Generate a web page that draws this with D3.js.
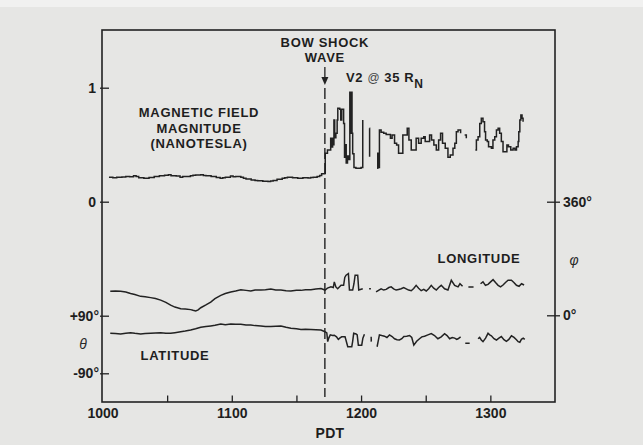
<!DOCTYPE html>
<html>
<head>
<meta charset="utf-8">
<script src="https://cdn.jsdelivr.net/npm/d3@7"></script>
<style>
  html, body { margin: 0; padding: 0; background: #e6e6e4; }
  svg { display: block; }
  text { font-family: "Liberation Sans", Arial, Helvetica, sans-serif; fill: #1e1e1e; }
</style>
</head>
<body>
<svg id="chart" width="643" height="445"></svg>
<script>
// ---------------- DATA ----------------
const xTickLabels = [1000, 1100, 1200, 1300];
const xMinorTicks = [1050, 1100, 1150, 1200, 1250, 1300];
const fieldTicks = [0, 1];
const latTicks = [90, -90];
const lonTicks = [0, 360];
const shockTime = 1172;

// Magnetic field magnitude (nanotesla); null = data gap
const fieldTime = [1005,1008,1011,1015,1018,1021,1024,1026,1028,1032,1036,1040,1044,1048,1051,1053,1057,1060,1062,1064,1068,1070,1072,1076,1078,1080,1084,1088,1091,1093,1095,1099,1101,1103,1107,1109,1111,1115,1118,1120,1124,1128,1130,1132,1135,1139,1141,1143,1147,1151,1155,1159,1161,1163,1166,1168,1169.5,
  1172,1172.3,1174,1175.5,1176.5,1177.2,1178,1178.6,1179,1179.6,1180.5,1181.5,1182,1183.5,1184.3,1185,1186,1186.5,1187.2,1187.8,1188.5,1189.5,1190.5,1191.3,1191.8,1192.3,1193,1193.5,1194.5,1196,1198,1200,1201.3,
  1203,
  1206.5,1206.6,
  1209,
  1212.4,1212.9,1213.3,1214.2,1215.5,1217.5,1219.4,1221,1222.7,1224,1225.9,1227.5,1229,1231,1232.3,1234,1235.7,1237,1238.8,1240.5,1242.6,1244.5,1246.5,1248.5,1249.6,1251,1253,1254.5,1256.3,1258.2,1260,1261.5,1263,1265.1,1267.2,1269,1271.1,1272.5,1273.7,1275,1277,
  1278.5,
  1280.1,1281.4,
  1285,
  1288.4,1289.2,1290.5,1291.8,1293,1294.3,1295.5,1296.3,1297.6,1298.6,1300.8,1302,1303.4,1304.7,1306,1307.2,1308.5,1309.8,1311.6,1312.8,1314,1315.8,1317.6,1319,1320.2,1321.5,1322,1322.8,1323.6,1324.5,1325.3];
const fieldValue = [.214,.21,.214,.216,.222,.218,.228,.22,.21,.206,.212,.22,.228,.232,.236,.228,.225,.214,.22,.222,.228,.232,.235,.237,.23,.228,.22,.212,.205,.21,.215,.225,.218,.22,.214,.205,.2,.19,.186,.184,.18,.178,.182,.185,.196,.205,.21,.214,.21,.205,.21,.208,.212,.215,.22,.23,.245,
  .25,.424,.454,.454,.556,.48,.556,.5,.717,.56,.6,.717,.82,.81,.717,.81,.81,.687,.39,.5,.34,.40,.37,.96,.6,.96,.60,.42,.30,.293,.293,.30,.717,
  null,
  .644,.395,
  null,
  .293,.425,.3,.63,.61,.60,.59,.59,.556,.585,.512,.497,.424,.424,.585,.585,.644,.541,.454,.454,.556,.512,.556,.57,.527,.527,.585,.541,.497,.454,.541,.60,.512,.468,.389,.41,.468,.512,.614,.629,.60,
  null,
  .585,.556,
  null,
  .454,.541,.57,.687,.731,.702,.614,.541,.527,.483,.468,.541,.57,.629,.644,.60,.527,.439,.439,.497,.483,.454,.468,.454,.483,.527,.614,.717,.76,.731,.702];

// Longitude (degrees, right axis)
const lonTime = [1006,1010,1014,1018,1021.7,1025,1029.5,1033,1037.2,1041,1045,1049,1052.7,1056,1060.5,1064,1068.2,1070,1072.1,1074,1076,1080,1083.7,1087,1091.5,1095,1099.2,1103,1107,1111,1114.7,1118,1122.5,1126,1130.2,1134,1138,1142,1145.7,1150,1153.5,1157,1161.2,1165,1169,1172.1,1174,1176.7,1178.5,1179.3,1180.5,1181.9,1184.5,1186.5,1187.4,1188.4,1190.2,1191,1193.5,1194.5,1195.4,1197.4,1198.2,1201.3,
  1203,
  1206.2,1207.6,
  1209.5,
  1211.6,1213.5,1215.5,1217.5,1219.4,1221.5,1223.3,1225.2,1227.1,1229,1231,1233,1234.9,1236.8,1238.8,1240.7,1242.6,1244.5,1246.5,1248.5,1250.4,1252.3,1254.3,1256.2,1258.2,1260,1262,1264.6,1267.2,1269.8,1272.4,1275,1276.5,
  1278.5,
  1280.6,1283,
  1287,
  1290.5,1292.4,1294.3,1296.2,1298.2,1300.2,1302.1,1304,1306,1307.9,1309.8,1311.7,1313.7,1316.3,1318.2,1320.2,1322.2,1324.1,1326.1];
const lonValue = [76,77,76,74,69,66,60,59,56,53,48,41,32,26,21,20,18,16,14,17,24,33,42,53,63,69,74,77,81,79,77,80,80,81,83,80,80,78,77,79,79,81,81,83,85,80,86,90,88,106,90,84,95,95,120,127,132,80,80,100,127,127,80,84,
  null,
  84,84,
  null,
  74,79,84,80,82,88,90,84,80,82,84,88,84,80,78,85,95,86,78,82,77,84,95,86,80,88,95,84,80,111,95,90,100,92,
  null,
  90,90,
  null,
  100,106,95,98,106,113,104,95,90,96,104,111,111,104,95,92,100,96];

// Latitude (degrees, lower left axis)
const latTime = [1006,1010,1014,1018,1021.7,1025,1029.5,1033,1037.2,1041,1045,1049,1052.7,1056,1060.5,1064,1068.2,1072,1076,1080,1083.7,1087,1091.5,1095,1099.2,1103,1107,1111,1114.7,1118,1122.5,1126,1130.2,1134,1138,1142,1145.7,1150,1153.5,1157,1161.2,1165,1169,1172.1,1173.5,1174.2,1175,1176.2,1178,1179.3,1181,1182.4,1183.5,1185,1187.6,1188.3,1189.7,1192.8,1193.5,1194.3,1196.1,1197,1197.9,1200.5,1201.4,1202.6,
  1204.5,
  1207.8,1207.9,
  1210,
  1212.4,1213.2,1214.2,1216,1218.1,1220,1222,1224,1225.9,1227.8,1229.7,1231.5,1233.1,1235.3,1237.5,1239.2,1240.8,1243,1245.2,1247,1249.1,1251.7,1254.3,1256.8,1259.4,1262,1264.6,1266.5,1268.5,1270.5,1272.4,1274,1275,1277,
  1278.7,
  1280.6,1284,
  1287.5,
  1290.5,1291.7,1293,1294.3,1296.3,1298.2,1299.5,1300.8,1302.8,1304.7,1306.6,1308.5,1310.5,1312.4,1314.3,1316.3,1318.3,1320.2,1321.5,1322.8,1324,1325.4,1326.6];
const latValue = [35,34,33,35,37,35,33,34,35,36,37,35,35,37,40,42,45,49,54,56,58,60,64,62,64,63,63,61,61,59,58,56,56,57,58,54,51,49,47,48,47,46,45,40,36,9,20,30,28,29,24,16,20,24,24,14,-7,-7,10,35,33,30,-2,-2,20,32,
  null,
  24,9,
  null,
  -7,10,30,28,26,22,30,25,18,15,14,18,25,26,28,22,-2,10,18,24,26,30,34,28,18,24,34,28,18,22,20,16,18,24,
  null,
  4,4,
  null,
  18,22,14,9,20,35,30,27,18,14,20,25,15,10,16,27,22,15,9,7,16,20,16];

// ---------------- LAYOUT ----------------
const frame = { left: 102, right: 555, top: 30, bottom: 402 };
const svg = d3.select("#chart");
const ink = "#222";

// light scanned page margin at the very top
svg.append("rect").attr("x", 0).attr("y", 0).attr("width", 643).attr("height", 7).attr("fill", "#f1f1f0");

const x = d3.scaleLinear().domain([1000, 1350]).range([102.5, 555]);
const yField = d3.scaleLinear().domain([0, 1]).range([201.7, 87.7]);
const yLat = d3.scaleLinear().domain([-90, 90]).range([373.3, 315.7]);
const yLon = d3.scaleLinear().domain([0, 360]).range([315.3, 201.7]);

// frame
svg.append("rect")
  .attr("x", frame.left).attr("y", frame.top)
  .attr("width", frame.right - frame.left).attr("height", frame.bottom - frame.top)
  .attr("fill", "none").attr("stroke", ink).attr("stroke-width", 1.6);

// bottom axis: minor ticks (inward) and labels
const xTicksAxis = d3.axisBottom(x).tickValues(xMinorTicks).tickSize(-6.5).tickFormat("");
const gxt = svg.append("g").attr("transform", `translate(0,${frame.bottom})`).call(xTicksAxis);
gxt.select(".domain").remove();
gxt.selectAll("line").attr("stroke", ink).attr("stroke-width", 1.3);

const xLabelAxis = d3.axisBottom(x).tickValues(xTickLabels).tickSize(0).tickPadding(16).tickFormat(d3.format("d"));
const gxl = svg.append("g").attr("transform", `translate(0,${frame.bottom})`).call(xLabelAxis);
gxl.select(".domain").remove();
gxl.selectAll("text").attr("font-size", 14).attr("font-weight", "bold")
  .attr("font-family", "Liberation Sans, Arial, sans-serif").attr("fill", "#1e1e1e").attr("dy", 0)
  .attr("y", 16);

// left axes
function leftAxis(scale, ticks, fmt, pad) {
  const ax = d3.axisLeft(scale).tickValues(ticks).tickSizeInner(-7).tickSizeOuter(0).tickPadding(pad).tickFormat(fmt);
  const g = svg.append("g").attr("transform", `translate(${frame.left},0)`).call(ax);
  g.select(".domain").remove();
  g.selectAll("line").attr("stroke", ink).attr("stroke-width", 1.3).attr("x1", -2);
  g.selectAll("text").attr("font-size", 14).attr("font-weight", "bold")
    .attr("font-family", "Liberation Sans, Arial, sans-serif").attr("fill", "#1e1e1e");
  return g;
}
leftAxis(yField, fieldTicks, d3.format("d"), 6);
leftAxis(yLat, latTicks, d => (d > 0 ? "+" : "-") + Math.abs(d) + "°", 3);

// right axis — longitude
const axR = d3.axisRight(yLon).tickValues(lonTicks).tickSizeInner(5).tickSizeOuter(0).tickPadding(3).tickFormat(d => d + "°");
const gr = svg.append("g").attr("transform", `translate(${frame.right},0)`).call(axR);
gr.select(".domain").remove();
gr.selectAll("line").attr("stroke", ink).attr("stroke-width", 1.3).attr("x1", -8);
gr.selectAll("text").attr("font-size", 14).attr("font-weight", "bold")
  .attr("font-family", "Liberation Sans, Arial, sans-serif").attr("fill", "#1e1e1e");

// greek axis symbols
svg.append("text").attr("x", 83).attr("y", yLat(0)).attr("dy", "0.35em")
  .attr("text-anchor", "middle").attr("font-style", "italic").attr("font-size", 14)
  .attr("font-family", "Liberation Serif, serif").attr("fill", "#2a2a2a").style("fill", "#2a2a2a").text("θ");
svg.append("text").attr("x", 574).attr("y", yLon(180) + 2).attr("dy", "0.35em")
  .attr("text-anchor", "middle").attr("font-style", "italic").attr("font-size", 14)
  .attr("font-family", "Liberation Serif, serif").attr("fill", "#2a2a2a").style("fill", "#2a2a2a").text("φ");

// series
function series(times, values, scale, curve) {
  const pts = times.map((t, i) => [t, values[i]]);
  const line = d3.line()
    .defined(d => d[1] !== null)
    .x(d => x(d[0])).y(d => scale(d[1]))
    .curve(curve);
  svg.append("path").datum(pts)
    .attr("d", line).attr("fill", "none")
    .attr("stroke", ink).attr("stroke-width", 1.5).attr("stroke-linejoin", "miter");
}
series(fieldTime, fieldValue, yField, d3.curveStepAfter);
series(lonTime, lonValue, yLon, d3.curveLinear);
series(latTime, latValue, yLat, d3.curveLinear);

// bow shock dashed line + arrow
const xs = x(shockTime);
svg.append("line").attr("x1", xs).attr("x2", xs).attr("y1", 88).attr("y2", 397)
  .attr("stroke", ink).attr("stroke-width", 1.4).attr("stroke-dasharray", "11,4");
svg.append("line").attr("x1", xs).attr("x2", xs).attr("y1", 67).attr("y2", 79)
  .attr("stroke", ink).attr("stroke-width", 1.3);
svg.append("path").attr("d", `M${xs - 3.5},77 L${xs + 3.5},77 L${xs},85 Z`).attr("fill", ink);

// labels
function label(txt, xx, yy, opts = {}) {
  return svg.append("text").attr("x", xx).attr("y", yy)
    .attr("text-anchor", opts.anchor || "middle")
    .attr("font-size", opts.size || 13).attr("font-weight", "bold")
    .attr("letter-spacing", opts.ls !== undefined ? opts.ls : 0.7)
    .text(txt);
}
label("BOW SHOCK", xs, 47.3);
label("WAVE", xs, 62.3);
label("MAGNETIC FIELD", 199, 117.3);
label("MAGNITUDE", 199, 133);
label("(NANOTESLA)", 199, 147.7);
label("LONGITUDE", 479, 263.3);
label("LATITUDE", 175, 360);
label("PDT", 330, 438, { size: 14, ls: 0.3 });

const v2 = svg.append("text").attr("x", 346).attr("y", 81.7)
  .attr("font-size", 13).attr("font-weight", "bold").attr("letter-spacing", 0.6);
v2.append("tspan").text("V2 ");
v2.append("tspan").attr("font-style", "italic").attr("font-weight", "normal").attr("font-size", 12).style("fill", "#444").text("@");
v2.append("tspan").text(" 35 R");
v2.append("tspan").attr("dy", 6).attr("font-size", 12).text("N");
</script>
</body>
</html>
